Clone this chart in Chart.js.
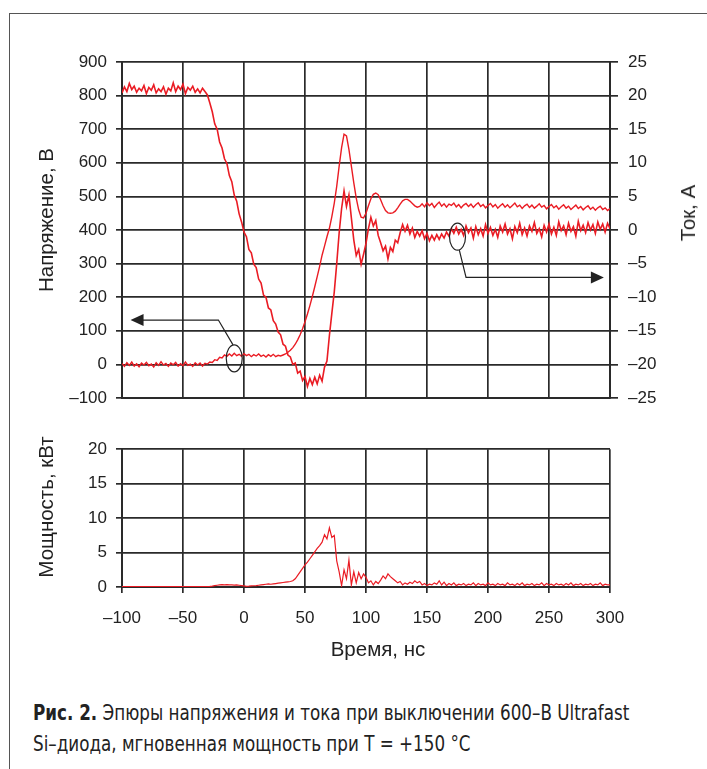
<!DOCTYPE html>
<html>
<head>
<meta charset="utf-8">
<script src="https://cdn.jsdelivr.net/npm/chart.js@4/dist/chart.umd.min.js"></script>
<style>
  body { margin: 0; background: #fff; }
  #page { position: relative; width: 707px; height: 769px; overflow: hidden; font-family: "Liberation Sans", Arial, sans-serif; color: #222; }
  #frame { position: absolute; left: 9px; top: 13px; width: 760px; height: 800px; border-left: 1.5px solid #555; border-top: 1.5px solid #555; }
  canvas { position: absolute; left: 0; }
  .ttl { position: absolute; font-family: "Liberation Sans", Arial, sans-serif; font-size: 20.5px; white-space: nowrap; transform: translate(-50%, -50%); }
  .rot { transform: translate(-50%, -50%) rotate(-90deg); }
  #caption { position: absolute; left: 33px; top: 698px; font-family: "Liberation Sans Narrow", "DejaVu Sans Condensed", "DejaVu Sans", sans-serif; font-size: 21px; line-height: 31px; color: #222; transform-origin: 0 0; white-space: nowrap; }
  #caption div { display: inline-block; }
  #caption b { font-weight: 900; }
</style>
</head>
<body>
<div id="page">
  <div id="frame"></div>
  <canvas id="top" width="707" height="420" style="top:0"></canvas>
  <canvas id="bottom" width="707" height="240" style="top:430px"></canvas>
  <div class="ttl rot" style="left:46px; top:220px">Напряжение, В</div>
  <div class="ttl rot" style="left:688px; top:213px">Ток, А</div>
  <div class="ttl rot" style="left:46px; top:507px">Мощность, кВт</div>
  <div class="ttl" style="left:378px; top:649px">Время, нс</div>
  <div id="caption"><div id="cap1"><b>Рис. 2.</b> Эпюры напряжения и тока при выключении 600–В Ultrafast</div><br><div>Si–диода, мгновенная мощность при T = +150 °C</div></div>
</div>
<script>
// time base: -100 ... 300 ns, one sample every 2 ns
const T_START = -100;
const T_STEP = 2;

// ток диода, А (правая ось)
const current = [
  20.4, 21.3, 20.6, 21.8, 20.9, 21.4, 20.5, 21.1, 20.7, 21.5,
  20.3, 21.2, 20.8, 21.6, 20.4, 21.0, 20.6, 21.3, 20.2, 21.1,
  20.7, 21.9, 20.6, 21.4, 20.9, 21.7, 20.3, 21.2, 20.8, 21.4,
  20.5, 21.0, 20.4, 21.1, 20.6, 20.1, 18.9, 17.6, 15.8, 15.0,
  13.1, 12.2, 10.6, 9.9, 8.1, 7.2, 5.2, 4.3, 2.4, 1.2,
  -0.3, -1.0, -2.9, -3.4, -5.1, -5.6, -7.3, -7.9, -9.7, -10.0,
  -11.6, -11.9, -13.5, -14.0, -15.2, -15.6, -17.0, -17.3, -18.6, -18.9,
  -20.0, -19.8, -21.3, -21.0, -22.4, -21.8, -23.3, -22.1, -23.0, -21.9,
  -22.9, -21.6, -22.5, -20.4, -19.5, -15.7, -12.4, -9.2, -5.0, -0.4,
  3.2, 5.8, 3.5, 5.2, 1.8, -1.5, -3.8, -2.9, -5.1, -3.6,
  -2.0, 0.2, 1.9, 0.6, 1.4, -0.8, -1.9, -3.1, -2.4, -4.3,
  -2.6, -3.2, -1.5, -1.9, -0.4, 0.8, -0.2, 0.7, -0.6, 0.3,
  -1.1, -0.2, -0.9, -0.1, -1.3, -0.5, -1.6, -0.8, -1.5, -0.7,
  -1.4, -0.6, -1.2, -0.3, -0.9, 0.2, -0.5, 0.4, -0.6, 0.1,
  -0.8, 0.6, -0.4, 0.3, -1.2, 0.5, -0.7, 0.2, -0.9, 0.8,
  -0.5, 0.4, -0.8, 0.1, -1.1, 0.6, -0.3, 0.9, -0.6, 0.2,
  -1.3, 0.5, -0.4, 1.0, -0.7, 0.3, -0.9, 0.6, -0.2, 1.1,
  -0.5, 0.2, -1.0, 0.7, -0.3, 0.9, -0.6, 0.4, -0.8, 1.2,
  -0.1, 0.6, -0.7, 1.0, -0.2, 0.5, -0.9, 1.3, -0.1, 0.7,
  -0.4, 1.1, 0.0, 0.8, -0.5, 1.2, 0.1, 0.9, -0.3, 1.0,
  0.2
];

// напряжение на диоде, В (левая ось)
const voltage = [
  3, -6, 5, -3, 7, -5, 2, -7, 4, -2,
  6, -4, 1, -8, 5, -3, 8, -2, 3, -6,
  4, -1, 6, -5, 2, -4, 7, -3, 1, -6,
  5, -2, 4, -5, 3, 1, 7, 6, 14, 12,
  21, 19, 28, 24, 31, 25, 33, 26, 30, 24,
  32, 26, 30, 23, 29, 25, 31, 24, 28, 22,
  29, 24, 30, 23, 27, 25, 28, 31, 36, 42,
  50, 60, 73, 88, 106, 127, 150, 175, 202, 231,
  261, 292, 325, 352, 380, 405, 440, 480, 530, 590,
  645, 685, 680, 640, 590, 540, 495, 460, 438, 436,
  450, 472, 493, 506, 510, 505, 490, 472, 458, 451,
  450, 451, 456, 466, 477, 487, 491, 491, 486, 479,
  472, 468, 470, 478, 469, 481, 472, 479, 467, 476,
  483, 471, 478, 468, 477, 473, 480, 469, 476, 466,
  474, 479, 470, 477, 467, 475, 481, 470, 476, 466,
  473, 479, 469, 476, 465, 472, 478, 468, 475, 466,
  473, 480, 469, 474, 464, 472, 477, 467, 474, 465,
  471, 478, 468, 473, 463, 470, 476, 466, 472, 462,
  469, 475, 465, 471, 461, 468, 474, 464, 470, 460,
  467, 472, 462, 468, 459, 466, 471, 461, 466, 458,
  464
];

// мгновенная мощность, кВт
const power = [
  0.05, 0.05, 0.05, 0.05, 0.05, 0.05, 0.05, 0.05, 0.05, 0.05,
  0.05, 0.05, 0.05, 0.05, 0.05, 0.05, 0.05, 0.05, 0.05, 0.05,
  0.05, 0.05, 0.05, 0.05, 0.05, 0.05, 0.05, 0.05, 0.05, 0.05,
  0.05, 0.05, 0.05, 0.05, 0.05, 0.05, 0.08, 0.12, 0.2, 0.25,
  0.3, 0.35, 0.3, 0.35, 0.3, 0.32, 0.28, 0.3, 0.25, 0.2,
  0.15, 0.1, 0.12, 0.15, 0.18, 0.2, 0.25, 0.3, 0.35, 0.4,
  0.45, 0.4, 0.45, 0.5, 0.55, 0.6, 0.65, 0.7, 0.75, 0.8,
  0.9, 1.2, 1.7, 2.2, 2.7, 3.2, 3.6, 4.1, 4.6, 5.1,
  5.6, 6.0, 6.5, 7.6, 7.0, 8.6, 7.2, 7.5, 3.8, 2.2,
  0.2, 2.5, 1.2, 3.9, 0.3, 2.2, 0.6, 2.1, 1.2, 1.9,
  1.4, 0.6, 0.9, 0.3, 0.8, 0.5, 1.0, 1.6, 1.2, 1.9,
  1.5, 1.2, 0.9, 0.6, 0.8, 0.3, 0.6, 0.4, 0.7, 0.5,
  0.9, 0.6, 0.8, 0.3, 0.5, 0.2, 0.4, 0.3, 0.6, 0.4,
  0.9, 0.3, 0.7, 0.2, 0.5, 0.3, 0.6, 0.2, 0.4, 0.3,
  0.5, 0.2, 0.4, 0.3, 0.6, 0.2, 0.5, 0.3, 0.4, 0.2,
  0.6, 0.3, 0.4, 0.2, 0.5, 0.3, 0.4, 0.2, 0.6, 0.3,
  0.4, 0.2, 0.5, 0.3, 0.6, 0.2, 0.4, 0.3, 0.5, 0.2,
  0.4, 0.3, 0.6, 0.2, 0.5, 0.3, 0.4, 0.2, 0.5, 0.3,
  0.4, 0.2, 0.5, 0.3, 0.6, 0.2, 0.4, 0.3, 0.5, 0.2,
  0.4, 0.3, 0.5, 0.2, 0.4, 0.3, 0.6, 0.2, 0.4, 0.3,
  0.3
];

// axis limits / ticks
const timeRange = [-100, 300, 50];
const voltRange = [-100, 900, 100];
const ampRange = [-25, 25, 5];
const powerRange = [0, 20, 5];

const RED = "#ea1c24";
const GRID = "#2a2a2a";
const tickFont = { family: "'Liberation Sans', Arial, sans-serif", size: 17 };
const dash = v => String(v).replace("-", "\u2013");
const toXY = arr => arr.map((v, i) => ({ x: T_START + i * T_STEP, y: v }));

// fit caption to the width of the original block
const cap = document.getElementById("caption");
cap.style.transform = "scaleX(" + (596 / document.getElementById("cap1").offsetWidth) + ")";

// ellipses + arrows (in data units of x / left y axis)
const markers = [
  { ellipse: [-8, 18], path: [[-9, 58], [-21, 132], [-93, 132]] },
  { ellipse: [175, 380], path: [[176.5, 340], [182, 259], [295, 259]] }
];

const annotate = {
  id: "annotate",
  afterDatasetsDraw(chart) {
    const { ctx, scales: { x, y } } = chart;
    ctx.save();
    ctx.strokeStyle = "#222";
    ctx.fillStyle = "#222";
    ctx.lineWidth = 1.2;
    markers.forEach(m => {
      ctx.beginPath();
      ctx.ellipse(x.getPixelForValue(m.ellipse[0]), y.getPixelForValue(m.ellipse[1]), 8, 13.5, 0, 0, Math.PI * 2);
      ctx.stroke();
      const pts = m.path.map(p => [x.getPixelForValue(p[0]), y.getPixelForValue(p[1])]);
      const tip = pts[pts.length - 1];
      const dir = Math.sign(tip[0] - pts[pts.length - 2][0]);
      ctx.beginPath();
      ctx.moveTo(pts[0][0], pts[0][1]);
      for (let i = 1; i < pts.length - 1; i++) ctx.lineTo(pts[i][0], pts[i][1]);
      ctx.lineTo(tip[0] - dir * 11, tip[1]);
      ctx.stroke();
      ctx.beginPath();
      ctx.moveTo(tip[0], tip[1]);
      ctx.lineTo(tip[0] - dir * 13, tip[1] - 6);
      ctx.lineTo(tip[0] - dir * 13, tip[1] + 6);
      ctx.closePath();
      ctx.fill();
    });
    ctx.restore();
  }
};

const lineDs = (data, yAxisID, width) => ({
  data: toXY(data), yAxisID, borderColor: RED, borderWidth: width,
  pointRadius: 0, tension: 0, fill: false
});

const yAxis = (range, position, tickLength, onArea, width) => ({
  position, min: range[0], max: range[1],
  ticks: { stepSize: range[2], font: tickFont, color: "#222", padding: position === "left" ? 9 : 10, callback: dash },
  grid: { color: GRID, lineWidth: 1.7, tickLength, drawOnChartArea: onArea },
  border: { color: GRID, width: 2 },
  afterFit: s => { s.width = width; }
});

new Chart(document.getElementById("top"), {
  type: "line",
  data: {
    datasets: [
      lineDs(voltage, "y", 1.4),
      lineDs(current, "y1", 1.6)
    ]
  },
  options: {
    responsive: false,
    animation: false,
    layout: { padding: { top: 62, left: 0, right: 0, bottom: 0 } },
    plugins: { legend: { display: false }, tooltip: { enabled: false } },
    scales: {
      x: {
        type: "linear", min: timeRange[0], max: timeRange[1],
        ticks: { display: false, stepSize: timeRange[2] },
        grid: { color: GRID, lineWidth: 1.7, drawTicks: false },
        border: { color: GRID, width: 2 },
        afterFit: s => { s.height = 22; }
      },
      y: yAxis(voltRange, "left", 6, true, 122),
      y1: yAxis(ampRange, "right", 8, false, 97)
    }
  },
  plugins: [annotate]
});

new Chart(document.getElementById("bottom"), {
  type: "line",
  data: { datasets: [lineDs(power, "y", 1.2)] },
  options: {
    responsive: false,
    animation: false,
    layout: { padding: { top: 19, left: 0, right: 97, bottom: 0 } },
    plugins: { legend: { display: false }, tooltip: { enabled: false } },
    scales: {
      x: {
        type: "linear", min: timeRange[0], max: timeRange[1],
        ticks: { stepSize: timeRange[2], font: tickFont, color: "#222", padding: 15, callback: dash, maxRotation: 0 },
        grid: { color: GRID, lineWidth: 1.7, tickLength: 6 },
        border: { color: GRID, width: 2 },
        afterFit: s => { s.height = 83; }
      },
      y: yAxis(powerRange, "left", 6, true, 122)
    }
  }
});
</script>
</body>
</html>
